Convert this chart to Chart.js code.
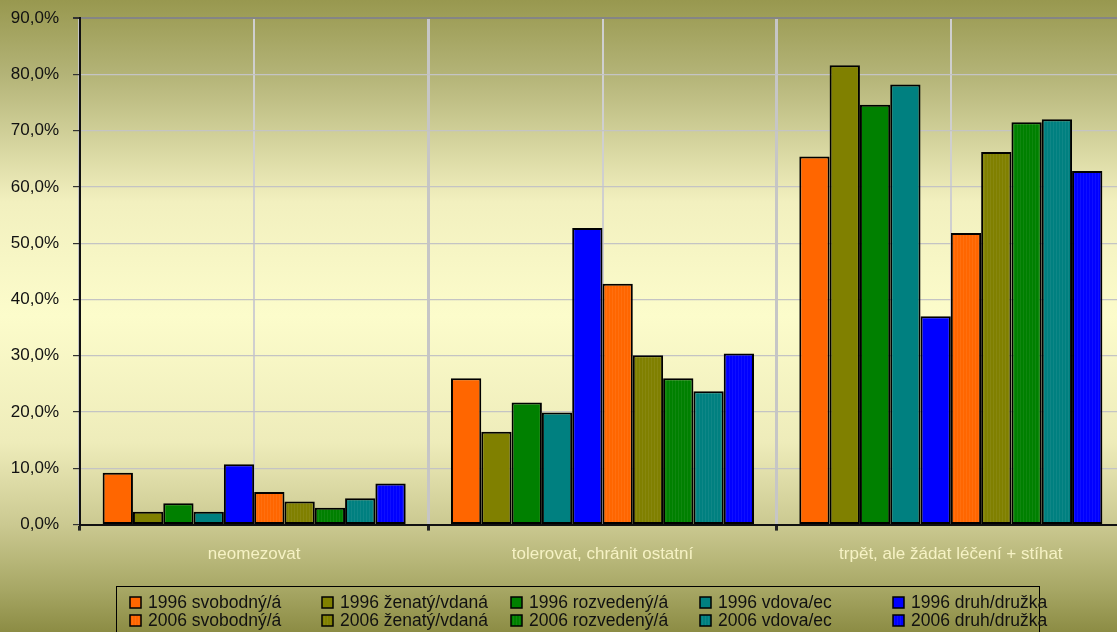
<!DOCTYPE html>
<html lang="cs">
<head>
  <meta charset="utf-8">
  <title>Postoj podle rodinného stavu</title>
  <script src="https://cdn.jsdelivr.net/npm/chart.js@4.4.1/dist/chart.umd.min.js"></script>
  <style>
    html, body { margin: 0; padding: 0; overflow: hidden; background: #9a9a55; }
    #wrap { width: 1125px; height: 632px; position: relative; }
  </style>
</head>
<body>
  <div id="wrap"><canvas id="chart"></canvas></div>

  <script>
    // categories on the x axis
    var categories = ["neomezovat", "tolerovat, chránit ostatní", "trpět, ale žádat léčení + stíhat"];

    // values in %
    var svobodny1996 = [9.2, 26.0, 65.4];
    var zenaty1996   = [2.3, 16.5, 81.6];
    var rozvedeny1996 = [3.8, 21.7, 74.6];
    var vdova1996    = [2.3, 19.9, 78.2];
    var druh1996     = [10.7, 52.7, 37.0];
    var svobodny2006 = [5.8, 42.8, 51.8];
    var zenaty2006   = [4.1, 30.1, 66.2];
    var rozvedeny2006 = [3.0, 26.0, 71.5];
    var vdova2006    = [4.7, 23.7, 72.0];
    var druh2006     = [7.3, 30.4, 62.8];

    var seriesNames = [
      "1996 svobodný/á", "1996 ženatý/vdaná", "1996 rozvedený/á", "1996 vdova/ec", "1996 druh/družka",
      "2006 svobodný/á", "2006 ženatý/vdaná", "2006 rozvedený/á", "2006 vdova/ec", "2006 druh/družka"
    ];
    var seriesValues = [
      svobodny1996, zenaty1996, rozvedeny1996, vdova1996, druh1996,
      svobodny2006, zenaty2006, rozvedeny2006, vdova2006, druh2006
    ];

    var yMin = 0, yMax = 90, yStep = 10;

    var baseColors = ["#ff6600", "#808000", "#008000", "#008080", "#0000ff"];

    // 2006 bars have a faint vertical stripe
    function stripes(color) {
      var c = document.createElement("canvas");
      c.width = 3; c.height = 4;
      var g = c.getContext("2d");
      g.fillStyle = color;
      g.fillRect(0, 0, 3, 4);
      g.fillStyle = "rgba(255,255,255,0.06)";
      g.fillRect(0, 0, 1, 4);
      return g.createPattern(c, "repeat");
    }

    var fills = [];
    baseColors.forEach(function (c) { fills.push(c); });
    baseColors.forEach(function (c) { fills.push(stripes(c)); });

    var datasets = seriesNames.map(function (name, i) {
      return {
        label: name,
        data: seriesValues[i],
        backgroundColor: fills[i],
        borderColor: "#000",
        borderWidth: 2,
        borderSkipped: false,
        categoryPercentage: 0.87,
        barPercentage: 1.0
      };
    });

    var fontFamily = "'Liberation Sans', Arial, sans-serif";

    // background gradient over the whole picture
    var bgPlugin = {
      id: "bg",
      beforeDraw: function (chart) {
        var ctx = chart.ctx, h = chart.height;
        var grad = ctx.createLinearGradient(0, 0, 0, h);
        grad.addColorStop(0.0, "#98984f");
        grad.addColorStop(0.12, "#b4b478");
        grad.addColorStop(0.32, "#f2f0bf");
        grad.addColorStop(0.5, "#fcfccb");
        grad.addColorStop(0.7, "#eeecba");
        grad.addColorStop(0.83, "#cbc991");
        grad.addColorStop(0.93, "#a8a866");
        grad.addColorStop(1.0, "#8c8c44");
        ctx.save();
        ctx.fillStyle = grad;
        ctx.fillRect(0, 0, chart.width, h);
        ctx.restore();
      }
    };

    // legend in a fixed grid of 5 columns x 2 rows
    var legendPlugin = {
      id: "gridLegend",
      afterDraw: function (chart) {
        var ctx = chart.ctx;
        var colX = [130, 322, 511, 700, 893];
        var rowY = [602, 620];
        ctx.save();
        ctx.strokeStyle = "#000";
        ctx.lineWidth = 1;
        ctx.strokeRect(116.5, 586.5, 923, 60);
        ctx.font = "17.5px " + fontFamily;
        ctx.textBaseline = "middle";
        ctx.textAlign = "left";
        chart.data.datasets.forEach(function (ds, i) {
          var x = colX[i % 5], y = rowY[Math.floor(i / 5)];
          ctx.fillStyle = ds.backgroundColor;
          ctx.fillRect(x, y - 5, 11, 11);
          ctx.lineWidth = 1.5;
          ctx.strokeStyle = "#000";
          ctx.strokeRect(x, y - 5, 11, 11);
          ctx.fillStyle = "#111";
          ctx.fillText(ds.label, x + 18, y + 1);
        });
        ctx.restore();
      }
    };

    var chart = new Chart(document.getElementById("chart"), {
      type: "bar",
      data: { labels: categories, datasets: datasets },
      plugins: [bgPlugin, legendPlugin],
      options: {
        responsive: true,
        maintainAspectRatio: false,
        animation: false,
        layout: { padding: { top: 18, right: 0, bottom: 53, left: 0 } },
        plugins: {
          legend: { display: false },
          tooltip: { enabled: false }
        },
        scales: {
          x: {
            offset: true,
            grid: {
              offset: true,
              color: "#c6c6c6",
              lineWidth: 3,
              tickColor: "#222",
              tickLength: 6
            },
            border: { display: true, color: "#111", width: 2 },
            ticks: {
              color: "#f6f2c4",
              padding: 14,
              font: { family: fontFamily, size: 17 }
            }
          },
          x2: {
            type: "category",
            position: "top",
            offset: true,
            grid: { offset: false, color: "#cfcfcf", lineWidth: 2, drawTicks: false },
            border: { display: false },
            ticks: { display: false },
            afterFit: function (s) { s.height = 0; }
          },
          y: {
            min: yMin,
            max: yMax,
            grid: {
              color: function (c) { return c.tick && c.tick.value === yMax ? "#858585" : "#c4c4c4"; },
              lineWidth: function (c) { return c.tick && c.tick.value === yMax ? 2 : 1.2; },
              tickColor: "#333",
              tickLength: 7
            },
            border: { display: true, color: "#111", width: 2 },
            ticks: {
              stepSize: yStep,
              color: "#111",
              padding: 14,
              font: { family: fontFamily, size: 17 },
              callback: function (v) { return v.toFixed(1).replace(".", ",") + "%"; }
            },
            afterFit: function (s) {
              s.width = 80;
              s.paddingTop = 0;
              s.paddingBottom = 0;
            }
          }
        }
      }
    });
  </script>
</body>
</html>
